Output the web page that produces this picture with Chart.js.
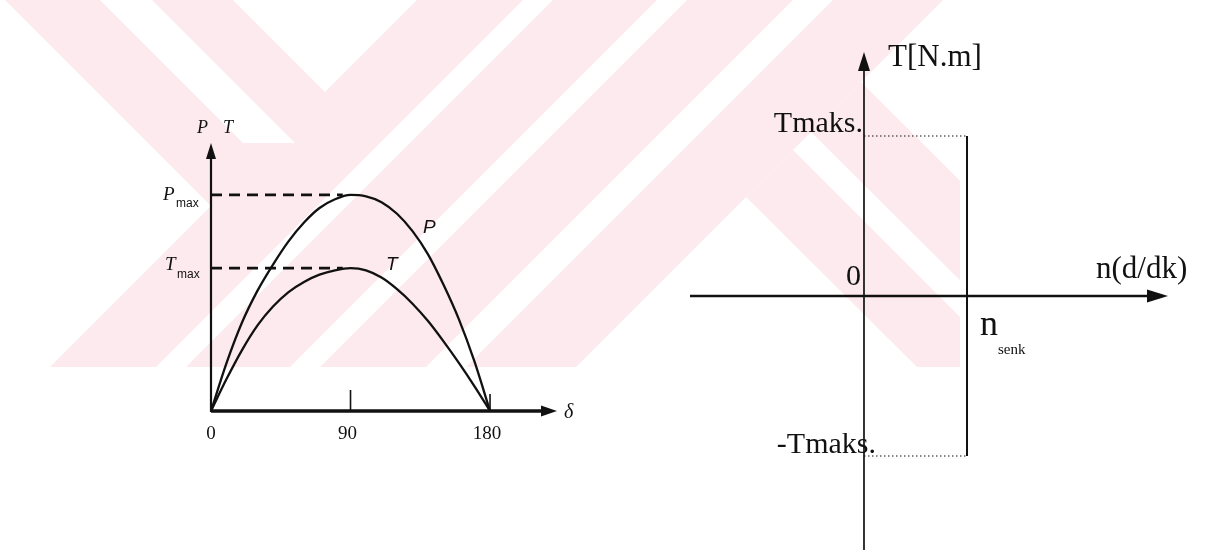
<!DOCTYPE html>
<html>
<head>
<meta charset="utf-8">
<script src="https://cdn.jsdelivr.net/npm/chart.js@4.4.1/dist/chart.umd.min.js"></script>
<style>
  html, body { margin: 0; padding: 0; background: #fff; }
  #wrap { position: relative; width: 1208px; height: 555px; overflow: hidden; }
  #wrap canvas { position: absolute; left: 0; top: 0; }
</style>
</head>
<body>
<div id="wrap">
  <canvas id="angleChart" width="1208" height="555"></canvas>
  <canvas id="torqueChart" width="1208" height="555"></canvas>
</div>
<script>
// P(δ) and T(δ) of the synchronous machine, per unit of Tmax, every 10 degrees
const loadAngle   = [0, 10, 20, 30, 40, 50, 60, 70, 80, 90, 100, 110, 120, 130, 140, 150, 160, 170, 180];
const powerValue  = [0, 0.33, 0.61, 0.83, 1.01, 1.17, 1.30, 1.40, 1.46, 1.49, 1.48, 1.44, 1.36, 1.24, 1.08, 0.87, 0.63, 0.34, 0];
const torqueValue = [0, 0.22, 0.42, 0.59, 0.72, 0.82, 0.89, 0.94, 0.97, 0.985, 0.97, 0.92, 0.84, 0.74, 0.62, 0.48, 0.33, 0.17, 0];
const powerMax = 1.49;
const torqueMax = 0.985;
const peakAngle = 85;          // dashed guides run from the axis to the top of each curve
const angleTicks = [0, 90, 180];

// torque-speed window: 0 .. n_senk, -Tmaks .. Tmaks
const speedMarks = [0, 1];
const torqueLimits = [1, -1];

const ink = '#111';
const wash = 'rgb(252,234,238)';
const serif = '"Liberation Serif", "Times New Roman", serif';
const sans = '"Liberation Sans", Arial, sans-serif';

// faint logo behind the figures (pixel polygons)
const logoFill = [
  [[5, 0], [943, 0], [576, 367], [50, 367], [211, 206]],
  [[746, 197], [793, 150], [1010, 367], [917, 367]],
  [[811, 132], [861, 82], [1147, 367], [1047, 367]]
];
const logoCuts = [
  [[233, 0], [417, 0], [325, 92]],
  [[100, 0], [152, 0], [295, 143], [243, 143]],
  [[523, 0], [553, 0], [186, 367], [156, 367]],
  [[657, 0], [687, 0], [320, 367], [290, 367]],
  [[793, 0], [833, 0], [466, 367], [426, 367]]
];

function poly(ctx, pts) {
  ctx.beginPath();
  pts.forEach(function (p, i) { i ? ctx.lineTo(p[0], p[1]) : ctx.moveTo(p[0], p[1]); });
  ctx.closePath();
  ctx.fill();
}

function arrowHead(ctx, x, y, dx, dy, len, half) {
  ctx.beginPath();
  ctx.moveTo(x, y);
  ctx.lineTo(x - dx * len - dy * half, y - dy * len + dx * half);
  ctx.lineTo(x - dx * len + dy * half, y - dy * len - dx * half);
  ctx.closePath();
  ctx.fill();
}

function segment(ctx, x1, y1, x2, y2, w) {
  ctx.lineWidth = w;
  ctx.beginPath();
  ctx.moveTo(x1, y1);
  ctx.lineTo(x2, y2);
  ctx.stroke();
}

const logoPlugin = {
  id: 'logo',
  beforeDraw(chart) {
    const ctx = chart.ctx;
    ctx.save();
    ctx.beginPath();
    ctx.rect(0, 0, 960, 367);
    ctx.clip();
    ctx.fillStyle = wash;
    logoFill.forEach(function (p) { poly(ctx, p); });
    ctx.fillStyle = '#fff';
    logoCuts.forEach(function (p) { poly(ctx, p); });
    ctx.restore();
  }
};

const angleAxes = {
  id: 'angleAxes',
  afterDatasetsDraw(chart) {
    const ctx = chart.ctx;
    const x = chart.scales.x, y = chart.scales.y;
    const x0 = x.getPixelForValue(0), y0 = y.getPixelForValue(0);
    ctx.save();
    ctx.strokeStyle = ink;
    ctx.fillStyle = ink;
    segment(ctx, x0, y0 + 1, x0, y.top + 12, 2.2);
    arrowHead(ctx, x0, y.top, 0, -1, 16, 5);
    segment(ctx, x0, y0, x.right - 12, y0, 3.4);
    arrowHead(ctx, x.right, y0, 1, 0, 16, 5.5);
    angleTicks.slice(1).forEach(function (v, i) {
      const px = x.getPixelForValue(v);
      segment(ctx, px, y0, px, y0 - (i ? 17 : 21), 1.6);
    });

    ctx.textBaseline = 'alphabetic';
    ctx.textAlign = 'center';
    ctx.font = '19px ' + serif;
    angleTicks.forEach(function (v) {
      ctx.fillText(String(v), x.getPixelForValue(v) - (v ? 3 : 0), y0 + 28);
    });
    ctx.textAlign = 'left';
    ctx.font = 'italic 20px ' + serif;
    ctx.fillText('δ', x.right + 7, y0 + 7);

    ctx.font = 'italic 18px ' + serif;
    ctx.fillText('P', x0 - 14, y.top - 10);
    ctx.fillText('T', x0 + 12, y.top - 10);

    const yp = y.getPixelForValue(powerMax), yt = y.getPixelForValue(torqueMax);
    ctx.font = 'italic 19px ' + serif;
    ctx.fillText('P', x0 - 48, yp + 5);
    ctx.fillText('T', x0 - 46, yt + 2);
    ctx.font = '12px ' + sans;
    ctx.fillText('max', x0 - 35, yp + 12);
    ctx.fillText('max', x0 - 34, yt + 10);

    ctx.font = 'italic 19px ' + sans;
    ctx.fillText('P', 423, 233);
    ctx.fillText('T', 386, 270);
    ctx.restore();
  }
};

const torqueAxes = {
  id: 'torqueAxes',
  afterDatasetsDraw(chart) {
    const ctx = chart.ctx;
    const x = chart.scales.x, y = chart.scales.y;
    const x0 = x.getPixelForValue(0), y0 = y.getPixelForValue(0);
    const xs = x.getPixelForValue(speedMarks[1]);
    const yHi = y.getPixelForValue(torqueLimits[0]), yLo = y.getPixelForValue(torqueLimits[1]);
    ctx.save();
    ctx.strokeStyle = ink;
    ctx.fillStyle = ink;
    segment(ctx, x0, y.bottom, x0, y.top + 14, 1.7);
    arrowHead(ctx, x0, y.top, 0, -1, 19, 6);
    segment(ctx, x.left, y0, x.right - 14, y0, 2.6);
    arrowHead(ctx, x.right, y0, 1, 0, 21, 6.5);

    ctx.textBaseline = 'alphabetic';
    ctx.textAlign = 'left';
    ctx.font = '31px ' + serif;
    ctx.fillText('T[N.m]', x0 + 24, y.top + 14);
    ctx.fillText('n(d/dk)', x.right - 72, y0 - 18);
    ctx.textAlign = 'right';
    ctx.font = '30px ' + serif;
    ctx.fillText('Tmaks.', x0 - 1, yHi - 4);
    ctx.fillText('-Tmaks.', x0 + 12, yLo - 3);
    ctx.fillText('0', x0 - 3, y0 - 11);
    ctx.textAlign = 'left';
    ctx.font = '36px ' + serif;
    ctx.fillText('n', xs + 13, y0 + 39);
    ctx.font = '15px ' + serif;
    ctx.fillText('senk', xs + 31, y0 + 58);
    ctx.restore();
  }
};

function pairs(xs, ys) {
  return xs.map(function (v, i) { return { x: v, y: ys[i] }; });
}

const curveStyle = {
  borderColor: ink,
  borderWidth: 2.3,
  pointRadius: 0,
  fill: false,
  cubicInterpolationMode: 'monotone'
};

new Chart(document.getElementById('angleChart'), {
  type: 'line',
  data: {
    datasets: [
      Object.assign({ data: pairs(loadAngle, powerValue) }, curveStyle),
      Object.assign({ data: pairs(loadAngle, torqueValue) }, curveStyle),
      {
        data: [{ x: 0, y: powerMax }, { x: peakAngle, y: powerMax }],
        borderColor: ink, borderWidth: 2.6, borderDash: [11, 7], pointRadius: 0
      },
      {
        data: [{ x: 0, y: torqueMax }, { x: peakAngle, y: torqueMax }],
        borderColor: ink, borderWidth: 2.6, borderDash: [11, 7], pointRadius: 0
      }
    ]
  },
  options: {
    responsive: false,
    animation: false,
    events: [],
    layout: { padding: { left: 211, right: 651, top: 143, bottom: 144 } },
    scales: {
      x: { type: 'linear', min: 0, max: 223.2, display: false },
      y: { type: 'linear', min: 0, max: 1.848, display: false }
    },
    plugins: { legend: { display: false }, tooltip: { enabled: false } }
  },
  plugins: [logoPlugin, angleAxes]
});

new Chart(document.getElementById('torqueChart'), {
  type: 'line',
  data: {
    datasets: [
      {
        data: [{ x: speedMarks[1], y: torqueLimits[0] }, { x: speedMarks[1], y: torqueLimits[1] }],
        borderColor: ink, borderWidth: 2, pointRadius: 0
      },
      {
        data: [{ x: speedMarks[0], y: torqueLimits[0] }, { x: speedMarks[1], y: torqueLimits[0] }],
        borderColor: ink, borderWidth: 1.2, borderDash: [1.5, 2.5], pointRadius: 0
      },
      {
        data: [{ x: speedMarks[0], y: torqueLimits[1] }, { x: speedMarks[1], y: torqueLimits[1] }],
        borderColor: ink, borderWidth: 1.2, borderDash: [1.5, 2.5], pointRadius: 0
      }
    ]
  },
  options: {
    responsive: false,
    animation: false,
    events: [],
    layout: { padding: { left: 690, right: 40, top: 52, bottom: 5 } },
    scales: {
      x: { type: 'linear', min: -1.689, max: 2.951, display: false },
      y: { type: 'linear', min: -1.5875, max: 1.525, display: false }
    },
    plugins: { legend: { display: false }, tooltip: { enabled: false } }
  },
  plugins: [torqueAxes]
});
</script>
</body>
</html>
